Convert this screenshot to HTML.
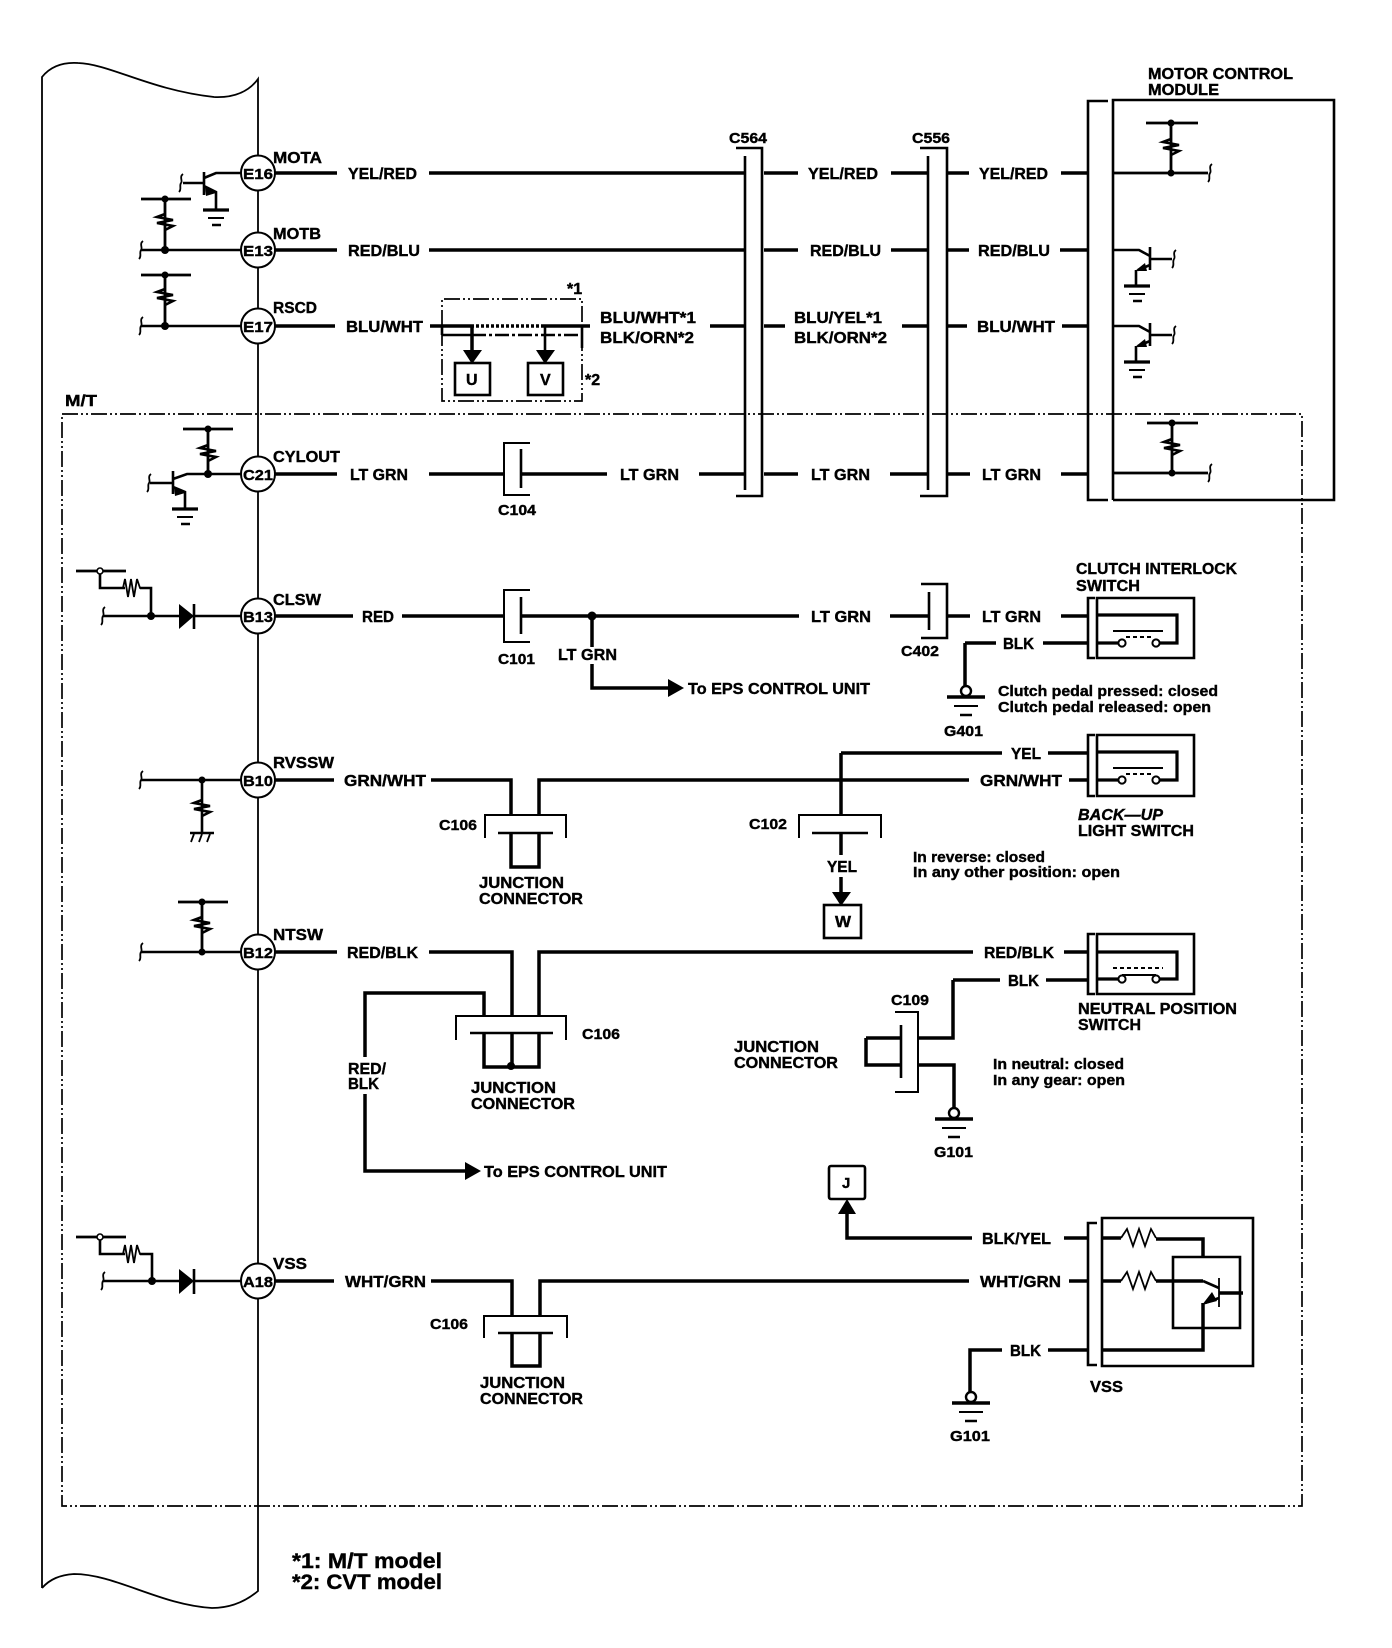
<!DOCTYPE html>
<html><head><meta charset="utf-8"><title>Wiring diagram</title>
<style>
html,body{margin:0;padding:0;background:#fff}
svg{display:block}
text{font-family:"Liberation Sans",sans-serif;font-weight:bold;fill:#000;font-size:16px;stroke:#000;stroke-width:.4}
.s{font-size:15px}
.f{font-size:21px}
.w{fill:none;stroke:#000;stroke-width:3.5}
.b{fill:none;stroke:#000;stroke-width:2.8}
.m{fill:none;stroke:#000;stroke-width:2.6}
.t{fill:none;stroke:#000;stroke-width:1.8}
.d{fill:none;stroke:#000;stroke-width:1.7;stroke-dasharray:16 3 2 3 2 3}
.k{fill:#000;stroke:none}
</style></head><body>
<svg xmlns="http://www.w3.org/2000/svg" width="1392" height="1648" viewBox="0 0 1392 1648">
<defs>
<g id="r"><path d="M0-8L-8-5L8-2L-8 1L8 4L0 8" fill="none" stroke="#000" stroke-width="2.6"/></g>
<g id="h"><path d="M0 0H7L9-9L12 9L15-9L18 9L21-9L24 0H32" fill="none" stroke="#000" stroke-width="1.8"/></g>
<g id="g"><path d="M-13 0H13" stroke="#000" stroke-width="3.2"/><path d="M-8 8H8" stroke="#000" stroke-width="2"/><path d="M-4 15H5" stroke="#000" stroke-width="2.5"/></g>
<g id="gc"><path d="M-19 0H19" stroke="#000" stroke-width="3.5"/><path d="M-12 9H12" stroke="#000" stroke-width="2"/><path d="M-6 18H6" stroke="#000" stroke-width="2.5"/><circle cx="0" cy="-6" r="5" fill="#fff" stroke="#000" stroke-width="2.4"/></g>
<g id="sw"><path d="M0 0H26M60 0H81V-28H0" fill="none" stroke="#000" stroke-width="3.2"/><circle cx="26" cy="0" r="3.6" fill="#fff" stroke="#000" stroke-width="2"/><circle cx="60" cy="0" r="3.6" fill="#fff" stroke="#000" stroke-width="2"/><path d="M30-6H56" stroke="#000" stroke-width="2" stroke-dasharray="4 3"/><path d="M17-12H67" stroke="#000" stroke-width="2"/></g>
<path id="cu" d="M2-9C-2-6 2 -2 0 0C-2 3 1 6-2 9" fill="none" stroke="#000" stroke-width="1.8"/>
</defs>

<!-- outer harness outline -->
<path class="t" d="M42 1588V77C50 67 62 62 78 63C110 64 150 90 214 97C236 98 250 90 258 79V1591C245 1602 230 1608 212 1608C160 1605 115 1574 74 1574C60 1575 50 1579 42 1588"/>

<!-- M/T box -->
<path class="d" d="M62 414H1302V1506H62Z"/>

<!-- pin circles -->
<g fill="#fff" stroke="#000" stroke-width="2">
<ellipse cx="258" cy="173" rx="17" ry="17.5"/><ellipse cx="258" cy="250" rx="17" ry="17.5"/><ellipse cx="258" cy="326" rx="17" ry="17.5"/><ellipse cx="258" cy="474" rx="17" ry="17.5"/><ellipse cx="258" cy="616" rx="17" ry="17.5"/><ellipse cx="258" cy="780" rx="17" ry="17.5"/><ellipse cx="258" cy="952" rx="17" ry="17.5"/><ellipse cx="258" cy="1281" rx="17" ry="17.5"/>
</g>
<text class="s" x="243" y="179" textLength="30" lengthAdjust="spacingAndGlyphs">E16</text>
<text class="s" x="243" y="256" textLength="30" lengthAdjust="spacingAndGlyphs">E13</text>
<text class="s" x="243" y="332" textLength="30" lengthAdjust="spacingAndGlyphs">E17</text>
<text class="s" x="243" y="480" textLength="30" lengthAdjust="spacingAndGlyphs">C21</text>
<text class="s" x="243" y="622" textLength="30" lengthAdjust="spacingAndGlyphs">B13</text>
<text class="s" x="243" y="786" textLength="30" lengthAdjust="spacingAndGlyphs">B10</text>
<text class="s" x="243" y="958" textLength="30" lengthAdjust="spacingAndGlyphs">B12</text>
<text class="s" x="243" y="1287" textLength="30" lengthAdjust="spacingAndGlyphs">A18</text>

<!-- main wires -->
<path class="w" d="M275 173H337M429 173H745M764 173H798M891 173H928M947 173H969M1061 173H1088"/>
<path class="w" d="M275 250H337M429 250H745M764 250H798M891 250H928M947 250H969M1060 250H1088"/>
<path class="w" d="M275 326H335M430 326H471M542 326H590M710 326H745M764 326H785M902 326H928M947 326H967M1062 326H1088"/>
<path class="w" d="M275 474H337M429 474H504M521 474H607M699 474H745M764 474H798M890 474H928M947 474H970M1061 474H1088"/>
<path class="w" d="M275 616H353M402 616H504M521 616H799M890 616H929M947 616H970M1061 616H1088"/>
<path class="w" d="M592 616V647M592 664V688H669"/>
<path class="w" d="M965 643H996M1043 643H1088M965 643V687"/>
<path class="w" d="M275 780H334M431 780H511V815M539 815V780H969M1069 780H1088"/>
<path class="w" d="M841 753H1002M1048 753H1088M841 753V815M841 833V855M841 877V893"/>
<path class="w" d="M511 833V867H539V833"/>
<path class="w" d="M275 952H337M429 952H512V1016M539 1016V952H973M1064 952H1088"/>
<path class="w" d="M484 1016V993H365V1057M365 1094V1171H466"/>
<path class="w" d="M484 1033V1067H539V1033M512 1033V1067"/>
<circle class="k" cx="511" cy="1066" r="4"/>
<path class="w" d="M953 980H1000M1046 980H1088M953 980V1038H918M866 1038H901M866 1038V1065H901M918 1065H954V1108"/>
<path class="w" d="M275 1281H334M431 1281H512V1316M540 1316V1281H969M1069 1281H1088"/>
<path class="w" d="M512 1333V1366H540V1333"/>
<path class="w" d="M847 1213V1238H972M1064 1238H1088"/>
<path class="w" d="M970 1393V1350H1002M1048 1350H1088"/>

<!-- connectors C564/C556 -->
<path class="m" d="M745 156V490M736 148H762V496H736"/>
<path class="m" d="M928 156V490M920 148H947V496H920"/>
<!-- Motor control module -->
<path class="m" d="M1108 101H1088V500H1108M1113 500V100H1334V500H1113"/>
<use href="#r" x="1171" y="147"/>
<path class="b" d="M1146 123H1198M1171 123V173M1113 173H1208M1113 473H1208M1147 423H1198M1172 423V473"/>
<use href="#cu" x="1210" y="173"/><use href="#cu" x="1210" y="473"/>
<circle class="k" cx="1171" cy="123" r="3.5"/><circle class="k" cx="1171" cy="173" r="3.5"/>
<circle class="k" cx="1172" cy="423" r="3.5"/><circle class="k" cx="1172" cy="473" r="3.5"/>
<use href="#r" x="1172" y="447"/>
<!-- module transistors -->
<g id="tr1">
<path class="m" d="M1113 250H1139L1150 256M1150 247V270M1150 259H1172"/>
<path class="m" d="M1150 265L1138 270"/><path class="m" d="M1136 270V286"/>
<path class="k" d="M1135 271L1145 263L1147 271Z"/>
<use href="#cu" x="1174" y="259"/><use href="#g" x="1137" y="286"/>
</g>
<use href="#tr1" x="0" y="76"/>

<!-- left side symbols: E16 transistor -->
<path class="m" d="M241 173H216L204 178M204 172V195M204 183H183M204 186L216 192V210"/>
<path class="k" d="M216 193L205 187L206 196Z"/>
<use href="#cu" x="181" y="183"/><use href="#g" x="216" y="210"/>
<!-- E13 / E17 T -->
<path class="b" d="M141 199H191M165 199V250"/><path class="m" d="M141 250H241"/>
<use href="#r" x="165" y="222"/><circle class="k" cx="165" cy="199" r="3.5"/><circle class="k" cx="165" cy="250" r="4"/><use href="#cu" x="141" y="250"/>
<path class="b" d="M141 275H191M165 275V326"/><path class="m" d="M141 326H241"/>
<use href="#r" x="165" y="297"/><circle class="k" cx="165" cy="275" r="3.5"/><circle class="k" cx="165" cy="326" r="4"/><use href="#cu" x="141" y="326"/>
<!-- C21 -->
<path class="b" d="M183 429H233M208 429V474"/><use href="#r" x="208" y="453"/>
<circle class="k" cx="208" cy="429" r="3.5"/><circle class="k" cx="208" cy="474" r="4"/>
<path class="m" d="M241 474H187L173 479M173 471V494M173 483H150M173 487L185 492V509"/>
<path class="k" d="M185 493L174 487L175 496Z"/>
<use href="#cu" x="149" y="483"/><use href="#g" x="185" y="509"/>
<!-- B13 left -->
<path class="b" d="M76 571H126"/>
<circle cx="100" cy="571" r="3" fill="#fff" stroke="#000" stroke-width="1.6"/>
<path class="m" d="M100 574V588H125M140 588H151V616M103 616H179M194 616H241"/>
<use href="#h" x="116" y="588"/>
<use href="#cu" x="103" y="616"/><circle class="k" cx="151" cy="616" r="4"/>
<path class="k" d="M179 604L194 616L179 629Z"/><path class="m" d="M194 604V629"/>
<!-- B10 -->
<path class="m" d="M141 780H241M202 780V833M190 833H214"/>
<path class="t" d="M194 834L191 842M202 834L199 842M210 834L207 842"/>
<use href="#cu" x="141" y="780"/><use href="#r" x="202" y="808"/><circle class="k" cx="202" cy="780" r="3.5"/>
<!-- B12 -->
<path class="b" d="M178 902H228M202 902V952"/><path class="m" d="M141 952H241"/>
<use href="#cu" x="141" y="952"/><use href="#r" x="202" y="925"/><circle class="k" cx="202" cy="902" r="3.5"/><circle class="k" cx="202" cy="952" r="3.5"/>
<!-- A18 left -->
<path class="b" d="M76 1237H126"/>
<circle cx="100" cy="1237" r="3" fill="#fff" stroke="#000" stroke-width="1.6"/>
<path class="m" d="M100 1240V1254H125M140 1254H152V1281M103 1281H179M194 1281H241"/>
<use href="#h" x="116" y="1254"/>
<use href="#cu" x="103" y="1281"/><circle class="k" cx="152" cy="1281" r="4"/>
<path class="k" d="M179 1269L194 1281L179 1294Z"/><path class="m" d="M194 1269V1294"/>

<!-- option box U / V -->
<path class="d" d="M442 326V299H582V401H442Z"/>
<path class="t" style="stroke-width:3.5;stroke-dasharray:3 2" d="M471 326H542"/>
<path class="m" d="M442 335H472"/><path class="d" style="stroke-width:2.4;stroke-dasharray:14 3 3 3" d="M472 335H582"/>
<path class="m" d="M582 326V348M442 326V335"/>
<path class="w" d="M472 326V352"/><path class="m" d="M545 326V352"/>
<path class="k" d="M463 350H482L472 364ZM536 350H555L545 364Z"/>
<rect x="455" y="363" width="35" height="32" fill="#fff" stroke="#000" stroke-width="2.6"/>
<rect x="528" y="363" width="35" height="32" fill="#fff" stroke="#000" stroke-width="2.6"/>
<text x="466" y="385">U</text><text x="540" y="385">V</text>

<!-- C104, C101 -->
<path class="t" style="stroke-width:2" d="M530 443H504V495H530"/><path class="m" d="M521 449V488"/>
<path class="t" style="stroke-width:2" d="M530 590H504V642H530"/><path class="m" d="M521 597V634"/>
<!-- C402 -->
<path class="m" d="M929 592V630M921 584H947V638H921"/>
<circle class="k" cx="592" cy="616" r="4.5"/>
<path class="k" d="M668 679L684 688L668 697ZM465 1162L481 1171L465 1180Z"/>
<!-- C106 top -->
<path class="t" style="stroke-width:2" d="M485 838V815H566V838"/><path class="m" d="M498 833H553"/>
<!-- C102 -->
<path class="t" style="stroke-width:2" d="M799 838V815H881V838"/><path class="m" d="M812 833H868"/>
<path class="k" d="M832 892H851L841 906Z"/>
<rect x="824" y="905" width="37" height="33" fill="#fff" stroke="#000" stroke-width="2.6"/>
<text x="835" y="927" textLength="16" lengthAdjust="spacingAndGlyphs">W</text>
<!-- C106 middle -->
<path class="t" style="stroke-width:2" d="M456 1040V1016H566V1040"/><path class="m" d="M470 1033H553"/>
<!-- C109 -->
<path class="t" style="stroke-width:2" d="M895 1012H918V1092H895"/><path class="m" d="M901 1025V1078"/>
<!-- C106 bottom -->
<path class="t" style="stroke-width:2" d="M484 1338V1316H567V1338"/><path class="m" d="M498 1333H553"/>

<!-- switches -->
<path class="m" d="M1095 598H1088V658H1095M1097 598H1194V658H1097Z"/>
<use href="#sw" x="1096" y="643"/>
<path class="m" d="M1095 735H1088V796H1095M1097 735H1194V796H1097Z"/>
<use href="#sw" x="1096" y="780"/>
<path class="m" d="M1095 934H1088V994H1095M1097 934H1194V994H1097Z"/>
<g transform="translate(1096 979)"><path d="M0 0H26M60 0H81V-27H0" fill="none" stroke="#000" stroke-width="3.2"/><circle cx="26" cy="0" r="3.6" fill="#fff" stroke="#000" stroke-width="2"/><circle cx="60" cy="0" r="3.6" fill="#fff" stroke="#000" stroke-width="2"/><path d="M26-4H60" stroke="#000" stroke-width="2"/><path d="M17-11H67" stroke="#000" stroke-width="2" stroke-dasharray="4 3"/></g>

<!-- grounds -->
<use href="#gc" x="966" y="697"/><use href="#gc" x="954" y="1119"/><use href="#gc" x="971" y="1403"/>

<!-- J box -->
<rect x="829" y="1166" width="36" height="33" rx="2" fill="#fff" stroke="#000" stroke-width="2.6"/>
<text x="842" y="1188" class="s">J</text>
<path class="k" d="M847 1199L838 1214H856Z"/>

<!-- VSS -->
<path class="m" d="M1097 1223H1088V1365H1097M1102 1366V1218H1253V1366Z"/>
<path class="t" d="M1121 1238L1127 1229L1133 1246L1139 1229L1145 1246L1151 1229L1156 1238M1121 1281L1127 1272L1133 1289L1139 1272L1145 1289L1151 1272L1156 1281"/>
<path class="w" d="M1102 1238H1121M1156 1239H1203V1257M1102 1281H1121M1156 1281H1203M1219 1293H1243M1203 1303V1350H1102"/>
<path class="m" d="M1173 1257H1240V1328H1173Z"/>
<path class="m" d="M1203 1281L1219 1288M1219 1298L1205 1303"/><path class="t" d="M1219 1278V1307"/>
<path class="k" d="M1202 1305L1212 1292L1217 1301Z"/>

<!-- labels -->
<text x="273" y="163" textLength="49" lengthAdjust="spacingAndGlyphs">MOTA</text>
<text x="273" y="239" textLength="48" lengthAdjust="spacingAndGlyphs">MOTB</text>
<text x="273" y="313" textLength="44" lengthAdjust="spacingAndGlyphs">RSCD</text>
<text x="273" y="462" textLength="67" lengthAdjust="spacingAndGlyphs">CYLOUT</text>
<text x="273" y="605" textLength="48" lengthAdjust="spacingAndGlyphs">CLSW</text>
<text x="273" y="768" textLength="61" lengthAdjust="spacingAndGlyphs">RVSSW</text>
<text x="273" y="940" textLength="50" lengthAdjust="spacingAndGlyphs">NTSW</text>
<text x="273" y="1269" textLength="34" lengthAdjust="spacingAndGlyphs">VSS</text>
<text x="65" y="406" textLength="32" lengthAdjust="spacingAndGlyphs">M/T</text>

<text x="348" y="179" textLength="69" lengthAdjust="spacingAndGlyphs">YEL/RED</text>
<text x="808" y="179" textLength="70" lengthAdjust="spacingAndGlyphs">YEL/RED</text>
<text x="979" y="179" textLength="69" lengthAdjust="spacingAndGlyphs">YEL/RED</text>
<text x="348" y="256" textLength="72" lengthAdjust="spacingAndGlyphs">RED/BLU</text>
<text x="810" y="256" textLength="71" lengthAdjust="spacingAndGlyphs">RED/BLU</text>
<text x="978" y="256" textLength="72" lengthAdjust="spacingAndGlyphs">RED/BLU</text>
<text x="346" y="332" textLength="77" lengthAdjust="spacingAndGlyphs">BLU/WHT</text>
<text x="977" y="332" textLength="78" lengthAdjust="spacingAndGlyphs">BLU/WHT</text>
<text x="600" y="323" textLength="96" lengthAdjust="spacingAndGlyphs">BLU/WHT*1</text>
<text x="600" y="343" textLength="94" lengthAdjust="spacingAndGlyphs">BLK/ORN*2</text>
<text x="794" y="323" textLength="88" lengthAdjust="spacingAndGlyphs">BLU/YEL*1</text>
<text x="794" y="343" textLength="93" lengthAdjust="spacingAndGlyphs">BLK/ORN*2</text>
<text x="567" y="294">*1</text>
<text x="585" y="385">*2</text>

<text x="350" y="480" textLength="58" lengthAdjust="spacingAndGlyphs">LT GRN</text>
<text x="620" y="480" textLength="59" lengthAdjust="spacingAndGlyphs">LT GRN</text>
<text x="811" y="480" textLength="59" lengthAdjust="spacingAndGlyphs">LT GRN</text>
<text x="982" y="480" textLength="59" lengthAdjust="spacingAndGlyphs">LT GRN</text>
<text x="362" y="622" textLength="32" lengthAdjust="spacingAndGlyphs">RED</text>
<text x="558" y="660" textLength="59" lengthAdjust="spacingAndGlyphs">LT GRN</text>
<text x="811" y="622" textLength="60" lengthAdjust="spacingAndGlyphs">LT GRN</text>
<text x="982" y="622" textLength="59" lengthAdjust="spacingAndGlyphs">LT GRN</text>
<text x="1003" y="649" textLength="31" lengthAdjust="spacingAndGlyphs">BLK</text>
<text x="344" y="786" textLength="82" lengthAdjust="spacingAndGlyphs">GRN/WHT</text>
<text x="980" y="786" textLength="82" lengthAdjust="spacingAndGlyphs">GRN/WHT</text>
<text x="1011" y="759" textLength="30" lengthAdjust="spacingAndGlyphs">YEL</text>
<text x="827" y="872" textLength="30" lengthAdjust="spacingAndGlyphs">YEL</text>
<text x="347" y="958" textLength="71" lengthAdjust="spacingAndGlyphs">RED/BLK</text>
<text x="984" y="958" textLength="70" lengthAdjust="spacingAndGlyphs">RED/BLK</text>
<text x="1008" y="986" textLength="31" lengthAdjust="spacingAndGlyphs">BLK</text>
<text x="348" y="1074" textLength="38" lengthAdjust="spacingAndGlyphs">RED/</text>
<text x="348" y="1089" textLength="31" lengthAdjust="spacingAndGlyphs">BLK</text>
<text x="982" y="1244" textLength="69" lengthAdjust="spacingAndGlyphs">BLK/YEL</text>
<text x="345" y="1287" textLength="81" lengthAdjust="spacingAndGlyphs">WHT/GRN</text>
<text x="980" y="1287" textLength="81" lengthAdjust="spacingAndGlyphs">WHT/GRN</text>
<text x="1010" y="1356" textLength="31" lengthAdjust="spacingAndGlyphs">BLK</text>

<text x="729" y="143" class="s" textLength="38" lengthAdjust="spacingAndGlyphs">C564</text>
<text x="912" y="143" class="s" textLength="38" lengthAdjust="spacingAndGlyphs">C556</text>
<text x="498" y="515" class="s" textLength="38" lengthAdjust="spacingAndGlyphs">C104</text>
<text x="498" y="664" class="s" textLength="37" lengthAdjust="spacingAndGlyphs">C101</text>
<text x="901" y="656" class="s" textLength="38" lengthAdjust="spacingAndGlyphs">C402</text>
<text x="944" y="736" class="s" textLength="39" lengthAdjust="spacingAndGlyphs">G401</text>
<text x="439" y="830" class="s" textLength="38" lengthAdjust="spacingAndGlyphs">C106</text>
<text x="749" y="829" class="s" textLength="38" lengthAdjust="spacingAndGlyphs">C102</text>
<text x="582" y="1039" class="s" textLength="38" lengthAdjust="spacingAndGlyphs">C106</text>
<text x="891" y="1005" class="s" textLength="38" lengthAdjust="spacingAndGlyphs">C109</text>
<text x="934" y="1157" class="s" textLength="39" lengthAdjust="spacingAndGlyphs">G101</text>
<text x="430" y="1329" class="s" textLength="38" lengthAdjust="spacingAndGlyphs">C106</text>
<text x="950" y="1441" class="s" textLength="40" lengthAdjust="spacingAndGlyphs">G101</text>
<text x="1090" y="1392" textLength="33" lengthAdjust="spacingAndGlyphs">VSS</text>

<text x="1148" y="79" textLength="145" lengthAdjust="spacingAndGlyphs">MOTOR CONTROL</text>
<text x="1148" y="95" textLength="71" lengthAdjust="spacingAndGlyphs">MODULE</text>
<text x="1076" y="574" textLength="161" lengthAdjust="spacingAndGlyphs">CLUTCH INTERLOCK</text>
<text x="1076" y="591" textLength="64" lengthAdjust="spacingAndGlyphs">SWITCH</text>
<text x="1078" y="820" textLength="85" lengthAdjust="spacingAndGlyphs" font-style="italic">BACK—UP</text>
<text x="1078" y="836" textLength="116" lengthAdjust="spacingAndGlyphs">LIGHT SWITCH</text>
<text x="1078" y="1014" textLength="159" lengthAdjust="spacingAndGlyphs">NEUTRAL POSITION</text>
<text x="1078" y="1030" textLength="63" lengthAdjust="spacingAndGlyphs">SWITCH</text>
<text x="479" y="888" textLength="85" lengthAdjust="spacingAndGlyphs">JUNCTION</text>
<text x="479" y="904" textLength="104" lengthAdjust="spacingAndGlyphs">CONNECTOR</text>
<text x="471" y="1093" textLength="85" lengthAdjust="spacingAndGlyphs">JUNCTION</text>
<text x="471" y="1109" textLength="104" lengthAdjust="spacingAndGlyphs">CONNECTOR</text>
<text x="734" y="1052" textLength="85" lengthAdjust="spacingAndGlyphs">JUNCTION</text>
<text x="734" y="1068" textLength="104" lengthAdjust="spacingAndGlyphs">CONNECTOR</text>
<text x="480" y="1388" textLength="85" lengthAdjust="spacingAndGlyphs">JUNCTION</text>
<text x="480" y="1404" textLength="103" lengthAdjust="spacingAndGlyphs">CONNECTOR</text>

<text x="688" y="694" textLength="182" lengthAdjust="spacingAndGlyphs">To EPS CONTROL UNIT</text>
<text x="484" y="1177" textLength="183" lengthAdjust="spacingAndGlyphs">To EPS CONTROL UNIT</text>

<text x="998" y="696" class="s" textLength="220" lengthAdjust="spacingAndGlyphs">Clutch pedal pressed: closed</text>
<text x="998" y="712" class="s" textLength="213" lengthAdjust="spacingAndGlyphs">Clutch pedal released: open</text>
<text x="913" y="862" class="s" textLength="132" lengthAdjust="spacingAndGlyphs">In reverse: closed</text>
<text x="913" y="877" class="s" textLength="207" lengthAdjust="spacingAndGlyphs">In any other position: open</text>
<text x="993" y="1069" class="s" textLength="131" lengthAdjust="spacingAndGlyphs">In neutral: closed</text>
<text x="993" y="1085" class="s" textLength="132" lengthAdjust="spacingAndGlyphs">In any gear: open</text>

<text x="292" y="1568" class="f" textLength="150" lengthAdjust="spacingAndGlyphs">*1: M/T model</text>
<text x="292" y="1589" class="f" textLength="150" lengthAdjust="spacingAndGlyphs">*2: CVT model</text>
</svg>
</body></html>
